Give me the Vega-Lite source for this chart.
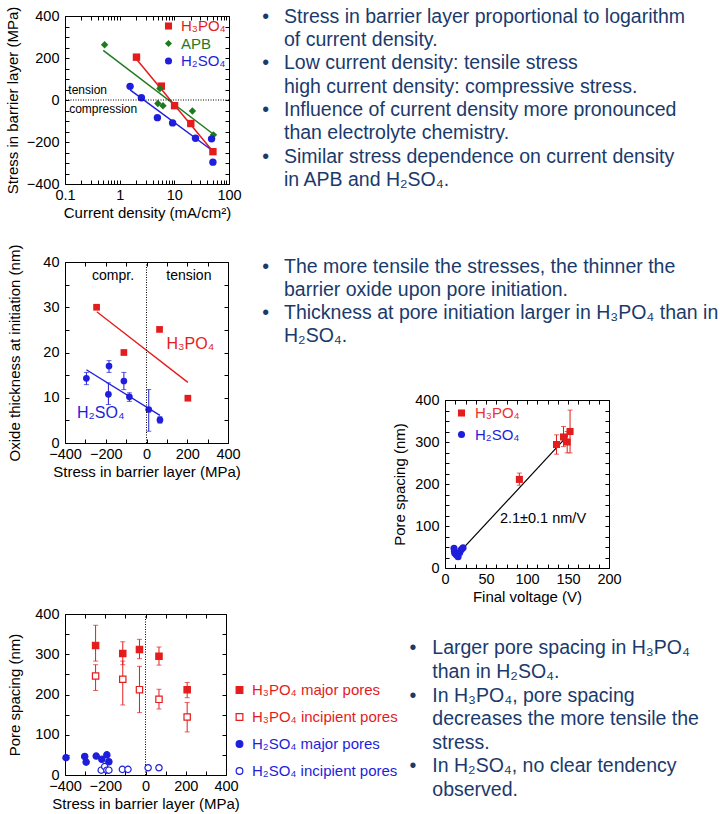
{
  "$schema": "https://vega.github.io/schema/vega-lite/v6.json",
  "background": "white",
  "padding": {"left": 4, "top": 5, "right": 5, "bottom": 5},
  "spacing": 380,
  "bounds": "flush",
  "resolve": {"scale": {"color": "independent", "shape": "independent", "fill": "independent", "stroke": "independent"}, "legend": {"color": "independent", "shape": "independent", "fill": "independent", "stroke": "independent"}},
  "config": {
    "font": "Liberation Sans",
    "view": {"stroke": "black", "strokeWidth": 1},
    "axis": {
      "grid": false, "domain": false, "ticks": true, "tickSize": -4, "tickColor": "black", "tickWidth": 1,
      "labelFont": "Liberation Sans", "labelFontSize": 14.5, "labelColor": "black", "labelFlush": false, "labelOverlap": false,
      "titleFont": "Liberation Sans", "titleFontSize": 15, "titleFontWeight": "normal", "titleColor": "black"
    },
    "axisX": {"labelPadding": 8.5, "titlePadding": 3.5},
    "axisY": {"labelPadding": 10, "titlePadding": 10},
    "legend": {"labelFont": "Liberation Sans", "labelFontSize": 15, "padding": 0, "symbolStrokeWidth": 1.2}
  },
  "hconcat": [
    {
      "resolve": {"scale": {"color": "independent", "shape": "independent", "fill": "independent", "stroke": "independent"}, "legend": {"color": "independent", "shape": "independent", "fill": "independent", "stroke": "independent"}},
      "vconcat": [
        {
          "width": 164,
          "height": 168,
          "layer": [
            {
              "data": {"values": [
                {"fit": "H₃PO₄", "current": 2.0, "stress": 196},
                {"fit": "H₃PO₄", "current": 50, "stress": -243},
                {"fit": "APB", "current": 0.5, "stress": 236},
                {"fit": "APB", "current": 52, "stress": -163},
                {"fit": "H₂SO₄", "current": 1.55, "stress": 48},
                {"fit": "H₂SO₄", "current": 48, "stress": -238}
              ]},
              "mark": {"type": "line", "strokeWidth": 1.5},
              "encoding": {
                "x": {"field": "current", "type": "quantitative", "scale": {"type": "log", "domain": [0.1, 100], "nice": false},
                  "axis": {"orient": "top", "labels": false, "title": null, "values": [0.1,0.2,0.3,0.4,0.5,0.6,0.7,0.8,0.9,1,2,3,4,5,6,7,8,9,10,20,30,40,50,60,70,80,90,100]}},
                "y": {"field": "stress", "type": "quantitative", "scale": {"domain": [-400, 400], "nice": false},
                  "axis": {"orient": "right", "labels": false, "title": null, "values": [-400,-350,-300,-250,-200,-150,-100,-50,0,50,100,150,200,250,300,350,400]}},
                "detail": {"field": "fit", "type": "nominal"},
                "stroke": {"condition": [{"test": "datum.fit == 'APB'", "value": "#1e7a1e"}, {"test": "datum.fit == 'H₂SO₄'", "value": "#1e1edc"}], "value": "#e41c1c"}
              }
            },
            {
              "data": {"values": [
                {"series": "H₃PO₄", "current": 2.03, "stress": 204},
                {"series": "H₃PO₄", "current": 5.77, "stress": 66},
                {"series": "H₃PO₄", "current": 10.1, "stress": -27},
                {"series": "H₃PO₄", "current": 20, "stress": -112},
                {"series": "H₃PO₄", "current": 50.8, "stress": -246},
                {"series": "APB", "current": 0.53, "stress": 263},
                {"series": "APB", "current": 5.45, "stress": 55},
                {"series": "APB", "current": 5.0, "stress": -17},
                {"series": "APB", "current": 6.2, "stress": -27},
                {"series": "APB", "current": 21.4, "stress": -52},
                {"series": "APB", "current": 52, "stress": -166},
                {"series": "H₂SO₄", "current": 1.55, "stress": 65},
                {"series": "H₂SO₄", "current": 2.5, "stress": 11},
                {"series": "H₂SO₄", "current": 4.9, "stress": -84},
                {"series": "H₂SO₄", "current": 9.3, "stress": -109},
                {"series": "H₂SO₄", "current": 24.4, "stress": -182},
                {"series": "H₂SO₄", "current": 48, "stress": -185},
                {"series": "H₂SO₄", "current": 50.8, "stress": -296}
              ]},
              "mark": {"type": "point", "filled": true, "size": 55, "opacity": 1},
              "encoding": {
                "x": {"field": "current", "type": "quantitative", "scale": {"type": "log", "domain": [0.1, 100], "nice": false},
                  "axis": {"orient": "bottom", "title": "Current density (mA/cm²)", "format": "~g",
                    "values": [0.1,0.2,0.3,0.4,0.5,0.6,0.7,0.8,0.9,1,2,3,4,5,6,7,8,9,10,20,30,40,50,60,70,80,90,100],
                    "labelExpr": "indexof([0.1, 1, 10, 100], datum.value) >= 0 ? datum.label : ''"}},
                "y": {"field": "stress", "type": "quantitative", "scale": {"domain": [-400, 400], "nice": false},
                  "axis": {"orient": "left", "title": "Stress in barrier layer (MPa)", "titleX": -48, "titleBaseline": "alphabetic",
                    "values": [-400,-350,-300,-250,-200,-150,-100,-50,0,50,100,150,200,250,300,350,400],
                    "labelExpr": "datum.value % 200 == 0 ? datum.label : ''"}},
                "color": {"field": "series", "type": "nominal", "scale": {"domain": ["H₃PO₄", "APB", "H₂SO₄"], "range": ["#e41c1c", "#1e7a1e", "#1e1edc"]},
                  "legend": {"orient": "none", "legendX": 96, "legendY": 2.5, "title": null, "symbolSize": 50, "rowPadding": 1.5, "labelOffset": 5,
                    "labelColor": {"expr": "datum.value == 'APB' ? '#1e7a1e' : (indexof(datum.value, 'H₃') >= 0 ? '#e41c1c' : '#1e1edc')"}}},
                "shape": {"field": "series", "type": "nominal", "scale": {"domain": ["H₃PO₄", "APB", "H₂SO₄"], "range": ["square", "diamond", "circle"]},
                  "legend": {"orient": "none", "legendX": 96, "legendY": 2.5, "title": null, "symbolSize": 50, "rowPadding": 1.5, "labelOffset": 5,
                    "labelColor": {"expr": "datum.value == 'APB' ? '#1e7a1e' : (indexof(datum.value, 'H₃') >= 0 ? '#e41c1c' : '#1e1edc')"}}}
              }
            },
            {
              "data": {"values": [{}]},
              "mark": {"type": "rule", "strokeDash": [1, 1.5], "color": "black", "strokeWidth": 1},
              "encoding": {"y": {"datum": 0, "type": "quantitative", "axis": null}}
            },
            {
              "data": {"values": [
                {"current": 0.115, "stress": 47, "label": "tension"},
                {"current": 0.119, "stress": -43, "label": "compression"}
              ]},
              "mark": {"type": "text", "align": "left", "baseline": "middle", "fontSize": 12, "color": "black"},
              "encoding": {
                "x": {"field": "current", "type": "quantitative", "axis": null},
                "y": {"field": "stress", "type": "quantitative", "axis": null},
                "text": {"field": "label"}
              }
            }
          ],
          "resolve": {"axis": {"x": "independent", "y": "independent"}}
        },
        {
          "resolve": {"scale": {"color": "independent", "shape": "independent", "fill": "independent", "stroke": "independent"}, "legend": {"color": "independent", "shape": "independent", "fill": "independent", "stroke": "independent"}},
          "vconcat": [
            {
              "width": 163,
              "height": 181,
              "layer": [
                {
                  "data": {"values": [
                    {"fit": "H₃PO₄", "stress": -244, "thick": 29.0},
                    {"fit": "H₃PO₄", "stress": 203, "thick": 13.4},
                    {"fit": "H₂SO₄", "stress": -295, "thick": 16.2},
                    {"fit": "H₂SO₄", "stress": 66, "thick": 6.1}
                  ]},
                  "mark": {"type": "line", "strokeWidth": 1.3},
                  "encoding": {
                    "x": {"field": "stress", "type": "quantitative", "scale": {"domain": [-400, 400], "nice": false},
                      "axis": {"orient": "top", "labels": false, "title": null, "values": [-400,-300,-200,-100,0,100,200,300,400]}},
                    "y": {"field": "thick", "type": "quantitative", "scale": {"domain": [0, 40], "nice": false},
                      "axis": {"orient": "right", "labels": false, "title": null, "values": [0,5,10,15,20,25,30,35,40]}},
                    "detail": {"field": "fit", "type": "nominal"},
                    "stroke": {"condition": {"test": "datum.fit == 'H₂SO₄'", "value": "#1e1edc"}, "value": "#e41c1c"}
                  }
                },
                {
                  "data": {"values": [
                    {"stress": -295, "lo": 12.9, "hi": 15.6},
                    {"stress": -184, "lo": 15.6, "hi": 18.2},
                    {"stress": -187, "lo": 8.5, "hi": 13.3},
                    {"stress": -111, "lo": 11.8, "hi": 15.6},
                    {"stress": -84, "lo": 9.2, "hi": 11.1},
                    {"stress": 11, "lo": 2.6, "hi": 11.8},
                    {"stress": 66, "lo": 4.4, "hi": 5.8}
                  ]},
                  "mark": {"type": "errorbar", "ticks": true, "size": 5, "thickness": 1, "color": "#1e1edc"},
                  "encoding": {
                    "x": {"field": "stress", "type": "quantitative", "axis": null},
                    "y": {"field": "lo", "type": "quantitative", "axis": null},
                    "y2": {"field": "hi"}
                  }
                },
                {
                  "data": {"values": [
                    {"series": "H₃PO₄", "stress": -245, "thick": 30},
                    {"series": "H₃PO₄", "stress": -111, "thick": 20},
                    {"series": "H₃PO₄", "stress": 64, "thick": 25.1},
                    {"series": "H₃PO₄", "stress": 203, "thick": 9.9},
                    {"series": "H₂SO₄", "stress": -295, "thick": 14.3},
                    {"series": "H₂SO₄", "stress": -184, "thick": 17},
                    {"series": "H₂SO₄", "stress": -187, "thick": 10.75},
                    {"series": "H₂SO₄", "stress": -111, "thick": 13.7},
                    {"series": "H₂SO₄", "stress": -84, "thick": 10.2},
                    {"series": "H₂SO₄", "stress": 11, "thick": 7.4},
                    {"series": "H₂SO₄", "stress": 66, "thick": 5.1}
                  ]},
                  "mark": {"type": "point", "filled": true, "size": 45, "opacity": 1},
                  "encoding": {
                    "x": {"field": "stress", "type": "quantitative", "scale": {"domain": [-400, 400], "nice": false},
                      "axis": {"orient": "bottom", "title": "Stress in barrier layer (MPa)", "values": [-400,-300,-200,-100,0,100,200,300,400],
                        "labelExpr": "datum.value % 200 == 0 ? datum.label : ''"}},
                    "y": {"field": "thick", "type": "quantitative", "scale": {"domain": [0, 40], "nice": false},
                      "axis": {"orient": "left", "title": "Oxide thickness at initiation (nm)", "titleX": -45.5, "titleBaseline": "alphabetic",
                        "values": [0,5,10,15,20,25,30,35,40],
                        "labelExpr": "datum.value % 10 == 0 ? datum.label : ''"}},
                    "color": {"field": "series", "type": "nominal", "scale": {"domain": ["H₃PO₄", "H₂SO₄"], "range": ["#e41c1c", "#1e1edc"]}, "legend": null},
                    "shape": {"field": "series", "type": "nominal", "scale": {"domain": ["H₃PO₄", "H₂SO₄"], "range": ["square", "circle"]}, "legend": null}
                  }
                },
                {
                  "data": {"values": [{}]},
                  "mark": {"type": "rule", "strokeDash": [1, 1.5], "color": "black", "strokeWidth": 1},
                  "encoding": {"x": {"datum": 0, "type": "quantitative", "axis": null}}
                },
                {
                  "data": {"values": [
                    {"series": "H₃PO₄", "stress": 98, "thick": 21.8, "label": "H₃PO₄"},
                    {"series": "H₂SO₄", "stress": -341, "thick": 6.6, "label": "H₂SO₄"}
                  ]},
                  "mark": {"type": "text", "align": "left", "baseline": "middle", "fontSize": 16},
                  "encoding": {
                    "x": {"field": "stress", "type": "quantitative", "axis": null},
                    "y": {"field": "thick", "type": "quantitative", "axis": null},
                    "text": {"field": "label"},
                    "color": {"field": "series", "type": "nominal", "legend": null}
                  }
                },
                {
                  "data": {"values": [
                    {"stress": -164, "thick": 37, "label": "compr."},
                    {"stress": 208, "thick": 37, "label": "tension"}
                  ]},
                  "mark": {"type": "text", "align": "center", "baseline": "middle", "fontSize": 14, "color": "black"},
                  "encoding": {
                    "x": {"field": "stress", "type": "quantitative", "axis": null},
                    "y": {"field": "thick", "type": "quantitative", "axis": null},
                    "text": {"field": "label"}
                  }
                }
              ],
              "resolve": {"axis": {"x": "independent", "y": "independent"}}
            },
            {
              "width": 161,
              "height": 161,
              "layer": [
                {
                  "data": {"values": [
                    {"stress": -248, "lo": 283, "hi": 372},
                    {"stress": -113, "lo": 274, "hi": 331},
                    {"stress": -30, "lo": 289, "hi": 337},
                    {"stress": 67, "lo": 273, "hi": 318},
                    {"stress": 207, "lo": 192, "hi": 230},
                    {"stress": -248, "lo": 210, "hi": 274},
                    {"stress": -113, "lo": 174, "hi": 283},
                    {"stress": -30, "lo": 155, "hi": 270},
                    {"stress": 67, "lo": 164, "hi": 213},
                    {"stress": 207, "lo": 107, "hi": 180}
                  ]},
                  "mark": {"type": "errorbar", "ticks": true, "size": 5, "thickness": 1, "color": "#e41c1c"},
                  "encoding": {
                    "x": {"field": "stress", "type": "quantitative", "scale": {"domain": [-400, 400], "nice": false},
                      "axis": {"orient": "top", "labels": false, "title": null, "values": [-400,-300,-200,-100,0,100,200,300,400]}},
                    "y": {"field": "lo", "type": "quantitative", "scale": {"domain": [0, 400], "nice": false},
                      "axis": {"orient": "right", "labels": false, "title": null, "values": [0,50,100,150,200,250,300,350,400]}},
                    "y2": {"field": "hi"}
                  }
                },
                {
                  "data": {"values": [{}]},
                  "mark": {"type": "rule", "strokeDash": [1, 1.5], "color": "black", "strokeWidth": 1},
                  "encoding": {"x": {"datum": 0, "type": "quantitative", "axis": null}}
                },
                {
                  "data": {"values": [
                    {"series": "H₃PO₄ major pores", "stress": -248, "spacing": 322},
                    {"series": "H₃PO₄ major pores", "stress": -113, "spacing": 302},
                    {"series": "H₃PO₄ major pores", "stress": -30, "spacing": 312},
                    {"series": "H₃PO₄ major pores", "stress": 67, "spacing": 295},
                    {"series": "H₃PO₄ major pores", "stress": 207, "spacing": 212},
                    {"series": "H₃PO₄ incipient pores", "stress": -248, "spacing": 246},
                    {"series": "H₃PO₄ incipient pores", "stress": -113, "spacing": 238},
                    {"series": "H₃PO₄ incipient pores", "stress": -30, "spacing": 212},
                    {"series": "H₃PO₄ incipient pores", "stress": 67, "spacing": 188},
                    {"series": "H₃PO₄ incipient pores", "stress": 207, "spacing": 144},
                    {"series": "H₂SO₄ major pores", "stress": -395, "spacing": 43},
                    {"series": "H₂SO₄ major pores", "stress": -302, "spacing": 46},
                    {"series": "H₂SO₄ major pores", "stress": -295, "spacing": 32},
                    {"series": "H₂SO₄ major pores", "stress": -245, "spacing": 47},
                    {"series": "H₂SO₄ major pores", "stress": -217, "spacing": 39},
                    {"series": "H₂SO₄ major pores", "stress": -192, "spacing": 50},
                    {"series": "H₂SO₄ major pores", "stress": -182, "spacing": 33},
                    {"series": "H₂SO₄ incipient pores", "stress": -220, "spacing": 12},
                    {"series": "H₂SO₄ incipient pores", "stress": -203, "spacing": 21},
                    {"series": "H₂SO₄ incipient pores", "stress": -192, "spacing": 12},
                    {"series": "H₂SO₄ incipient pores", "stress": -182, "spacing": 12},
                    {"series": "H₂SO₄ incipient pores", "stress": -115, "spacing": 14},
                    {"series": "H₂SO₄ incipient pores", "stress": -87, "spacing": 14},
                    {"series": "H₂SO₄ incipient pores", "stress": 13, "spacing": 18},
                    {"series": "H₂SO₄ incipient pores", "stress": 67, "spacing": 18}
                  ]},
                  "mark": {"type": "point", "filled": true, "size": 40, "strokeWidth": 1.2, "opacity": 1},
                  "encoding": {
                    "x": {"field": "stress", "type": "quantitative", "scale": {"domain": [-400, 400], "nice": false},
                      "axis": {"orient": "bottom", "title": "Stress in barrier layer (MPa)", "values": [-400,-300,-200,-100,0,100,200,300,400],
                        "labelExpr": "datum.value % 200 == 0 ? datum.label : ''"}},
                    "y": {"field": "spacing", "type": "quantitative", "scale": {"domain": [0, 400], "nice": false},
                      "axis": {"orient": "left", "title": "Pore spacing (nm)", "titleX": -45.5, "titleBaseline": "alphabetic",
                        "values": [0,50,100,150,200,250,300,350,400],
                        "labelExpr": "datum.value % 100 == 0 ? datum.label : ''"}},
                    "shape": {"field": "series", "type": "nominal",
                      "scale": {"domain": ["H₃PO₄ major pores", "H₃PO₄ incipient pores", "H₂SO₄ major pores", "H₂SO₄ incipient pores"], "range": ["square", "square", "circle", "circle"]},
                      "legend": {"orient": "none", "legendX": 167, "legendY": 68.5, "title": null, "symbolSize": 45, "rowPadding": 11, "labelOffset": 5,
                        "labelColor": {"expr": "indexof(datum.value, 'H₃') >= 0 ? '#e41c1c' : '#1e1edc'"}}},
                    "fill": {"field": "series", "type": "nominal",
                      "scale": {"domain": ["H₃PO₄ major pores", "H₃PO₄ incipient pores", "H₂SO₄ major pores", "H₂SO₄ incipient pores"], "range": ["#e41c1c", "white", "#1e1edc", "white"]},
                      "legend": {"orient": "none", "legendX": 167, "legendY": 68.5, "title": null, "symbolSize": 45, "rowPadding": 11, "labelOffset": 5,
                        "labelColor": {"expr": "indexof(datum.value, 'H₃') >= 0 ? '#e41c1c' : '#1e1edc'"}}},
                    "stroke": {"field": "series", "type": "nominal",
                      "scale": {"domain": ["H₃PO₄ major pores", "H₃PO₄ incipient pores", "H₂SO₄ major pores", "H₂SO₄ incipient pores"], "range": ["#e41c1c", "#e41c1c", "#1e1edc", "#1e1edc"]},
                      "legend": {"orient": "none", "legendX": 167, "legendY": 68.5, "title": null, "symbolSize": 45, "rowPadding": 11, "labelOffset": 5,
                        "labelColor": {"expr": "indexof(datum.value, 'H₃') >= 0 ? '#e41c1c' : '#1e1edc'"}}}
                  }
                }
              ],
              "resolve": {"axis": {"x": "independent", "y": "independent"}}
            }
          ],
          "spacing": 171,
          "bounds": "flush"
        }
      ],
      "spacing": 78,
      "bounds": "flush"
    },
    {
      "resolve": {"scale": {"color": "independent", "shape": "independent", "fill": "independent", "stroke": "independent"}, "legend": {"color": "independent", "shape": "independent", "fill": "independent", "stroke": "independent"}},
      "vconcat": [
        {
          "width": 10,
          "height": 250,
          "view": {"stroke": null},
          "data": {"values": [
            {"line": 0, "bullet": true, "text": "Stress in barrier layer proportional to logarithm"},
            {"line": 1, "bullet": false, "text": "of current density."},
            {"line": 2, "bullet": true, "text": "Low current density: tensile stress"},
            {"line": 3, "bullet": false, "text": "high current density: compressive stress."},
            {"line": 4, "bullet": true, "text": "Influence of current density more pronounced"},
            {"line": 5, "bullet": false, "text": "than electrolyte chemistry."},
            {"line": 6, "bullet": true, "text": "Similar stress dependence on current density"},
            {"line": 7, "bullet": false, "text": "in APB and H₂SO₄."}
          ]},
          "encoding": {
            "y": {"field": "line", "type": "quantitative", "scale": {"domain": [0, 1], "range": [6.7, 30.03], "nice": false, "zero": false}, "axis": null}
          },
          "layer": [
            {"mark": {"type": "text", "align": "left", "baseline": "alphabetic", "fontSize": 19.5, "color": "#1a3a6c", "x": -161},
              "encoding": {"text": {"field": "text"}}},
            {"transform": [{"filter": "datum.bullet"}],
              "mark": {"type": "text", "align": "center", "baseline": "alphabetic", "fontSize": 19.5, "color": "#1a3a6c", "x": -179.3},
              "encoding": {"text": {"value": "•"}}}
          ]
        },
        {
          "width": 10,
          "height": 134,
          "view": {"stroke": null},
          "data": {"values": [
            {"line": 0, "bullet": true, "text": "The more tensile the stresses, the thinner the"},
            {"line": 1, "bullet": false, "text": "barrier oxide upon pore initiation."},
            {"line": 2, "bullet": true, "text": "Thickness at pore initiation larger in H₃PO₄ than in"},
            {"line": 3, "bullet": false, "text": "H₂SO₄."}
          ]},
          "encoding": {
            "y": {"field": "line", "type": "quantitative", "scale": {"domain": [0, 1], "range": [6.7, 29.8], "nice": false, "zero": false}, "axis": null}
          },
          "layer": [
            {"mark": {"type": "text", "align": "left", "baseline": "alphabetic", "fontSize": 19.5, "color": "#1a3a6c", "x": -161},
              "encoding": {"text": {"field": "text"}}},
            {"transform": [{"filter": "datum.bullet"}],
              "mark": {"type": "text", "align": "center", "baseline": "alphabetic", "fontSize": 19.5, "color": "#1a3a6c", "x": -179.3},
              "encoding": {"text": {"value": "•"}}}
          ]
        },
        {
          "width": 164,
          "height": 168,
          "layer": [
            {
              "data": {"values": [
                {"voltage": 17.5, "spacing": 37},
                {"voltage": 149.6, "spacing": 315}
              ]},
              "mark": {"type": "line", "strokeWidth": 1.2, "color": "black"},
              "encoding": {
                "x": {"field": "voltage", "type": "quantitative", "scale": {"domain": [0, 200], "nice": false},
                  "axis": {"orient": "top", "labels": false, "title": null, "values": [0,12.5,25,37.5,50,62.5,75,87.5,100,112.5,125,137.5,150,162.5,175,187.5,200]}},
                "y": {"field": "spacing", "type": "quantitative", "scale": {"domain": [0, 400], "nice": false},
                  "axis": {"orient": "right", "labels": false, "title": null, "values": [0,25,50,75,100,125,150,175,200,225,250,275,300,325,350,375,400]}}
              }
            },
            {
              "data": {"values": [
                {"voltage": 90.7, "lo": 197, "hi": 226},
                {"voltage": 136, "lo": 271, "hi": 317},
                {"voltage": 144.5, "lo": 289, "hi": 337},
                {"voltage": 149, "lo": 274, "hi": 325},
                {"voltage": 152.5, "lo": 274, "hi": 376}
              ]},
              "mark": {"type": "errorbar", "ticks": true, "size": 5, "thickness": 1, "color": "#e41c1c"},
              "encoding": {
                "x": {"field": "voltage", "type": "quantitative", "axis": null},
                "y": {"field": "lo", "type": "quantitative", "axis": null},
                "y2": {"field": "hi"}
              }
            },
            {
              "data": {"values": [
                {"series": "H₃PO₄", "voltage": 90.7, "spacing": 211},
                {"series": "H₃PO₄", "voltage": 136, "spacing": 294},
                {"series": "H₃PO₄", "voltage": 144.5, "spacing": 312},
                {"series": "H₃PO₄", "voltage": 149, "spacing": 300},
                {"series": "H₃PO₄", "voltage": 152.5, "spacing": 325},
                {"series": "H₂SO₄", "voltage": 11, "spacing": 47},
                {"series": "H₂SO₄", "voltage": 11.5, "spacing": 40},
                {"series": "H₂SO₄", "voltage": 12, "spacing": 35},
                {"series": "H₂SO₄", "voltage": 14, "spacing": 31},
                {"series": "H₂SO₄", "voltage": 16, "spacing": 27},
                {"series": "H₂SO₄", "voltage": 18, "spacing": 37},
                {"series": "H₂SO₄", "voltage": 20, "spacing": 44},
                {"series": "H₂SO₄", "voltage": 22, "spacing": 48}
              ]},
              "mark": {"type": "point", "filled": true, "size": 50, "opacity": 1},
              "encoding": {
                "x": {"field": "voltage", "type": "quantitative", "scale": {"domain": [0, 200], "nice": false},
                  "axis": {"orient": "bottom", "title": "Final voltage (V)",
                    "values": [0,12.5,25,37.5,50,62.5,75,87.5,100,112.5,125,137.5,150,162.5,175,187.5,200],
                    "labelExpr": "datum.value % 50 == 0 ? datum.label : ''"}},
                "y": {"field": "spacing", "type": "quantitative", "scale": {"domain": [0, 400], "nice": false},
                  "axis": {"orient": "left", "title": "Pore spacing (nm)", "titleX": -41, "titleBaseline": "alphabetic",
                    "values": [0,25,50,75,100,125,150,175,200,225,250,275,300,325,350,375,400],
                    "labelExpr": "datum.value % 100 == 0 ? datum.label : ''"}},
                "color": {"field": "series", "type": "nominal", "scale": {"domain": ["H₃PO₄", "H₂SO₄"], "range": ["#e41c1c", "#1e1edc"]},
                  "legend": {"orient": "none", "legendX": 9, "legendY": 5.5, "title": null, "symbolSize": 50, "rowPadding": 5.5, "labelOffset": 6,
                    "labelColor": {"expr": "indexof(datum.value, 'H₃') >= 0 ? '#ee3030' : '#1e1edc'"}}},
                "shape": {"field": "series", "type": "nominal", "scale": {"domain": ["H₃PO₄", "H₂SO₄"], "range": ["square", "circle"]},
                  "legend": {"orient": "none", "legendX": 9, "legendY": 5.5, "title": null, "symbolSize": 50, "rowPadding": 5.5, "labelOffset": 6,
                    "labelColor": {"expr": "indexof(datum.value, 'H₃') >= 0 ? '#ee3030' : '#1e1edc'"}}}
              }
            },
            {
              "data": {"values": [{"voltage": 119.5, "spacing": 116.7, "label": "2.1±0.1 nm/V"}]},
              "mark": {"type": "text", "align": "center", "baseline": "middle", "fontSize": 14.5, "color": "black"},
              "encoding": {
                "x": {"field": "voltage", "type": "quantitative", "axis": null},
                "y": {"field": "spacing", "type": "quantitative", "axis": null},
                "text": {"field": "label"}
              }
            }
          ],
          "resolve": {"axis": {"x": "independent", "y": "independent"}}
        },
        {
          "width": 10,
          "height": 230,
          "view": {"stroke": null},
          "data": {"values": [
            {"line": 0, "bullet": true, "text": "Larger pore spacing in H₃PO₄"},
            {"line": 1, "bullet": false, "text": "than in H₂SO₄."},
            {"line": 2, "bullet": true, "text": "In H₃PO₄, pore spacing"},
            {"line": 3, "bullet": false, "text": "decreases the more tensile the"},
            {"line": 4, "bullet": false, "text": "stress."},
            {"line": 5, "bullet": true, "text": "In H₂SO₄, no clear tendency"},
            {"line": 6, "bullet": false, "text": "observed."}
          ]},
          "encoding": {
            "y": {"field": "line", "type": "quantitative", "scale": {"domain": [0, 1], "range": [86.3, 109.9], "nice": false, "zero": false}, "axis": null}
          },
          "layer": [
            {"mark": {"type": "text", "align": "left", "baseline": "alphabetic", "fontSize": 19.5, "color": "#1a3a6c", "x": -12.7},
              "encoding": {"text": {"field": "text"}}},
            {"transform": [{"filter": "datum.bullet"}],
              "mark": {"type": "text", "align": "center", "baseline": "alphabetic", "fontSize": 19.5, "color": "#1a3a6c", "x": -32},
              "encoding": {"text": {"value": "•"}}}
          ]
        }
      ],
      "spacing": 0,
      "bounds": "flush"
    }
  ]
}
